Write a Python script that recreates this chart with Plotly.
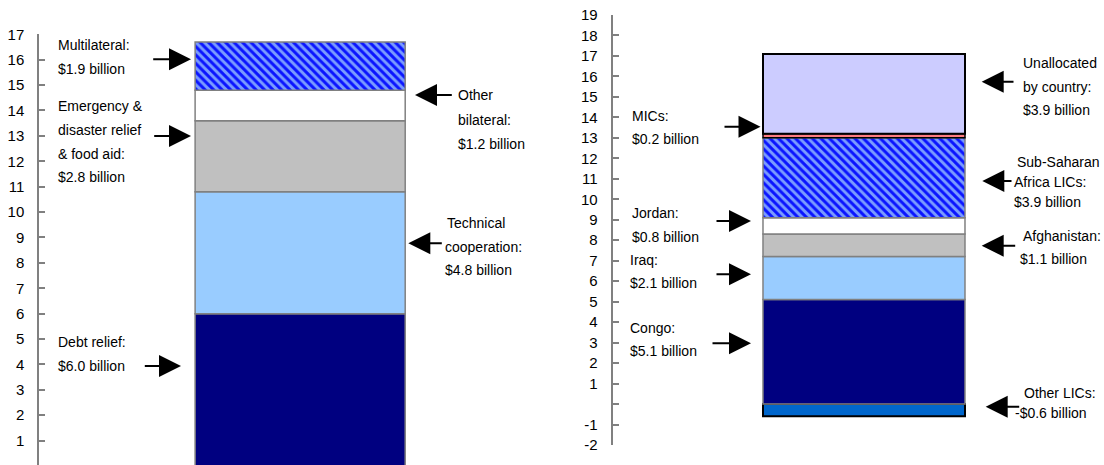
import plotly.graph_objects as go

W, H = 1104, 465

# ---- ODA by type of aid (left stack), $ billion ----
type_names = ["Debt relief", "Technical cooperation", "Emergency relief", "Other bilateral", "Multilateral"]
type_values = [6.0, 4.8, 2.8, 1.2, 1.9]

# ---- ODA by recipient (right stack), $ billion ----
recip_names = ["Other LICs", "Congo", "Iraq", "Afghanistan", "Jordan",
               "Sub-Saharan Africa LICs", "MICs", "Unallocated by country"]
recip_values = [-0.6, 5.1, 2.1, 1.1, 0.8, 3.9, 0.2, 3.9]

left_ticks = list(range(1, 18))
right_ticks = list(range(-2, 20))
right_ticktext = ["" if v == 0 else str(v) for v in right_ticks]

FONT = "Liberation Sans, Arial, sans-serif"
GRAY = "#808080"
HATCH = dict(shape="\\", fgcolor="#0a14ff", bgcolor="#7a9cff", size=6, solidity=0.5, fillmode="replace")

left_style = {
    "Debt relief": dict(color="#000080", line=dict(color=GRAY, width=1.5)),
    "Technical cooperation": dict(color="#99CCFF", line=dict(color=GRAY, width=1.5)),
    "Emergency relief": dict(color="#C0C0C0", line=dict(color=GRAY, width=1.5)),
    "Other bilateral": dict(color="#FFFFFF", line=dict(color=GRAY, width=1.5)),
    "Multilateral": dict(color="#3355ff", pattern=HATCH, line=dict(color=GRAY, width=1.5)),
}
right_style = {
    "Other LICs": dict(color="#0066CC", line=dict(color="#000000", width=2)),
    "Congo": dict(color="#000080", line=dict(color=GRAY, width=1.5)),
    "Iraq": dict(color="#99CCFF", line=dict(color=GRAY, width=1.5)),
    "Afghanistan": dict(color="#C0C0C0", line=dict(color=GRAY, width=1.5)),
    "Jordan": dict(color="#FFFFFF", line=dict(color=GRAY, width=1.5)),
    "Sub-Saharan Africa LICs": dict(color="#3355ff", pattern=HATCH, line=dict(color=GRAY, width=1.5)),
    "MICs": dict(color="#FF7C80", line=dict(color="#000000", width=1.5)),
    "Unallocated by country": dict(color="#CCCCFF", line=dict(color="#000000", width=2)),
}

fig = go.Figure()
for name, val in zip(type_names, type_values):
    fig.add_trace(go.Bar(x=["By type"], y=[val], name=name, width=0.6,
                         marker=left_style[name], xaxis="x", yaxis="y",
                         showlegend=False, hoverinfo="skip"))
for name, val in zip(recip_names, recip_values):
    fig.add_trace(go.Bar(x=["By recipient"], y=[val], name=name, width=0.6,
                         marker=right_style[name], xaxis="x2", yaxis="y2",
                         showlegend=False, hoverinfo="skip"))


def money(v):
    return ("-$" if v < 0 else "$") + f"{abs(v):.1f} billion"


tv = dict(zip(type_names, type_values))
rv = dict(zip(recip_names, recip_values))

# text blocks: (lines, left x px, first-line centre y px, line step px)
blocks = [
    (["Multilateral:", money(tv["Multilateral"])], 57, 45, 24.3),
    (["Emergency &", "disaster relief", "& food aid:", money(tv["Emergency relief"])], 57, 106, 23.8),
    (["Debt relief:", money(tv["Debt relief"])], 57, 341.7, 24.3),
    (["Other", "bilateral:", money(tv["Other bilateral"])], 456.7, 95, 24.5),
    (["Technical"], 446, 223, 0),
    (["cooperation:", money(tv["Technical cooperation"])], 443.5, 246.5, 23),
    (["MICs:", money(rv["MICs"])], 631, 116, 23.3),
    (["Jordan:", money(rv["Jordan"])], 631, 213.3, 24),
    (["Iraq:", money(rv["Iraq"])], 629.3, 260, 23.3),
    (["Congo:", money(rv["Congo"])], 629, 327.7, 23),
    (["Unallocated", "by country:", money(rv["Unallocated by country"])], 1021.7, 63.3, 23.4),
    (["Sub-Saharan"], 1016, 161.7, 0),
    (["Africa LICs:", money(rv["Sub-Saharan Africa LICs"])], 1013.3, 182, 20),
    (["Afghanistan:"], 1021.7, 235.7, 0),
    ([money(rv["Afghanistan"])], 1019.3, 259.3, 0),
    (["Other LICs:"], 1022.7, 393.3, 0),
    ([money(rv["Other LICs"])], 1014.3, 413.3, 0),
]

annotations = []
for lines, xpx, ypx, step in blocks:
    for i, line in enumerate(lines):
        annotations.append(dict(
            text=line, xref="paper", yref="paper",
            x=(xpx - 1) / W, y=1 - (ypx + i * step) / H,
            xanchor="left", yanchor="middle", showarrow=False,
            font=dict(family=FONT, size=14, color="#000000")))

# arrows: (tail x px, tip x px, y px)
arrows = [
    (151.7, 191, 59.3), (152.7, 191, 136), (143.3, 181, 366),
    (453.3, 415, 95), (443.3, 408.3, 243.3),
    (723, 760.5, 126.7), (715, 751, 221), (715, 751, 274.3), (711, 751, 343.3),
    (1015, 981.7, 81.7), (1013, 982.3, 181), (1016.7, 981.7, 245.7), (1020.7, 985.7, 406.7),
]
for tail, tip, ypx in arrows:
    annotations.append(dict(
        text="", xref="paper", yref="paper", x=tip / W, y=1 - ypx / H,
        ax=tail - tip, ay=0, showarrow=True, arrowhead=2, arrowsize=2.2,
        arrowwidth=2, arrowcolor="#000000"))

# axis geometry
left_axis_px, right_axis_px = 39.3, 612.7
yaxis_common = dict(showgrid=False, zeroline=False, showline=True, linecolor=GRAY,
                    linewidth=2, ticks="inside", ticklen=6, tickwidth=2, tickcolor=GRAY,
                    tickfont=dict(family=FONT, size=15, color="#000000"),
                    ticklabelstandoff=10, automargin=False)

fig.update_layout(
    width=W, height=H, margin=dict(l=0, r=0, t=0, b=0, pad=0),
    paper_bgcolor="white", plot_bgcolor="white", barmode="relative",
    xaxis=dict(domain=[left_axis_px / W, 539.3 / W], range=[-0.745, 0.683],
               visible=False, automargin=False),
    xaxis2=dict(domain=[right_axis_px / W, 1.0], range=[-0.7464, 0.7129],
                visible=False, automargin=False),
    yaxis=dict(domain=[0, (H - 34.3) / H], range=[0.04, 17], anchor="x",
               tickvals=left_ticks, ticktext=[str(v) for v in left_ticks], **yaxis_common),
    yaxis2=dict(domain=[(H - 445) / H, (H - 15) / H], range=[-2, 19], anchor="x2",
                tickvals=right_ticks, ticktext=right_ticktext, **yaxis_common),
    annotations=annotations,
)

fig.write_html("out.html")
